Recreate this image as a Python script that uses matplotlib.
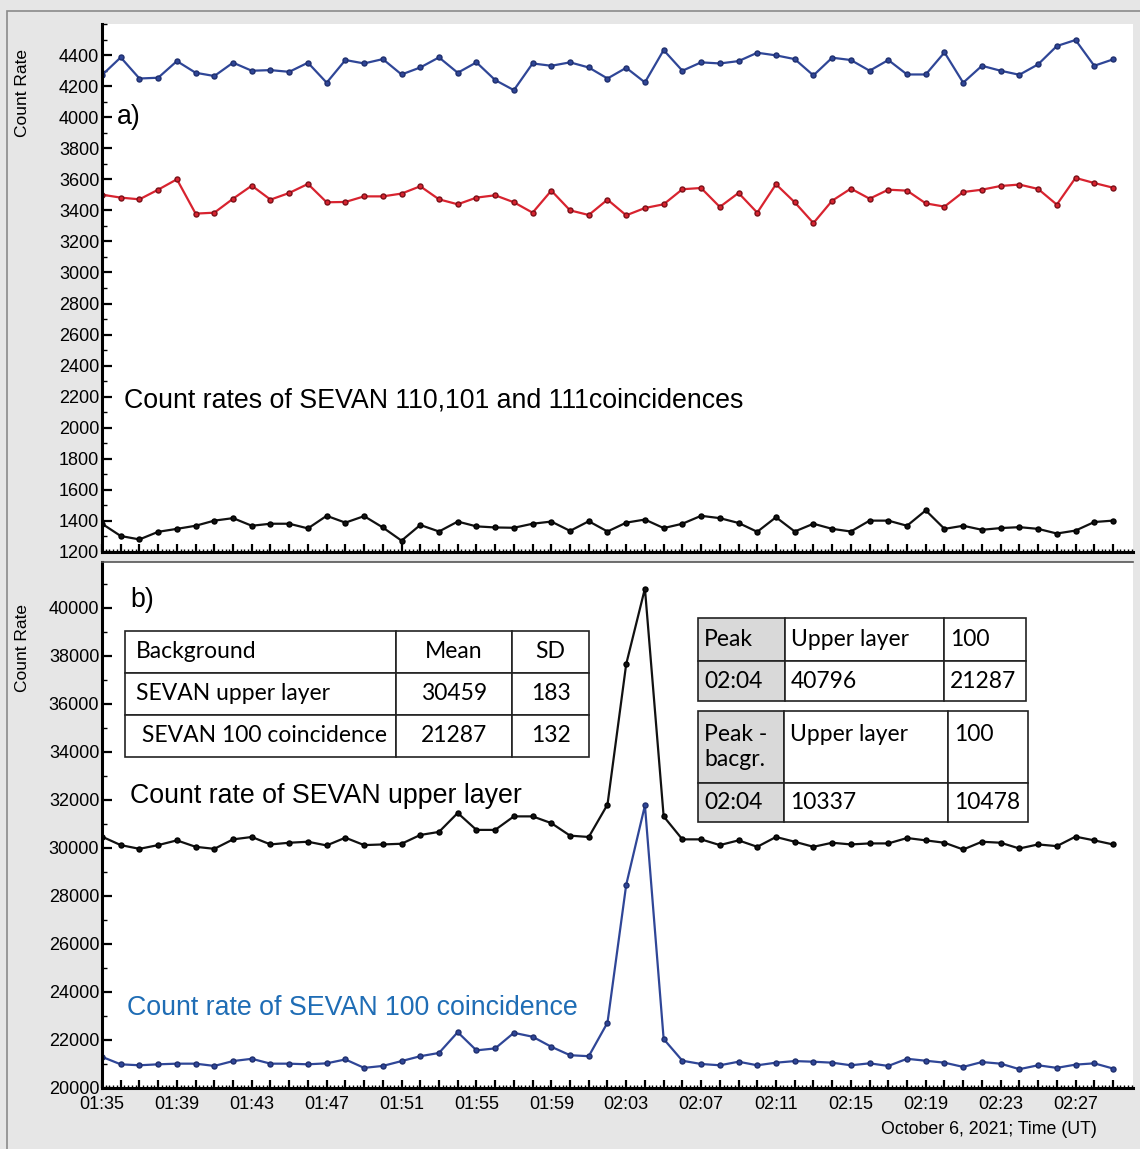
import matplotlib
matplotlib.use("Agg")
import matplotlib.pyplot as plt
from matplotlib.ticker import MultipleLocator, FixedLocator
from matplotlib.table import Table
from matplotlib.patches import Rectangle
import numpy as np

plt.rcParams['font.family'] = ['Liberation Sans', 'DejaVu Sans']

# minutes after 01:35 UT, October 6, 2021
minutes = np.arange(55)
tick_pos = [0, 4, 8, 12, 16, 20, 24, 28, 32, 36, 40, 44, 48, 52]
tick_labels = ["01:35", "01:39", "01:43", "01:47", "01:51", "01:55", "01:59",
               "02:03", "02:07", "02:11", "02:15", "02:19", "02:23", "02:27"]

# panel a) coincidences 110, 101, 111
sevan_110 = [4271, 4385, 4249, 4254, 4361, 4286, 4265, 4351, 4299, 4303, 4292, 4351, 4222, 4368,
             4346, 4374, 4275, 4320, 4385, 4286, 4353, 4239, 4174, 4346, 4331, 4353, 4320, 4249,
             4318, 4224, 4432, 4299, 4353, 4346, 4361, 4415, 4398, 4374, 4269, 4383, 4368, 4299,
             4368, 4275, 4275, 4417, 4222, 4331, 4299, 4273, 4340, 4458, 4497, 4331, 4372]
sevan_101 = [3501, 3482, 3471, 3533, 3600, 3379, 3385, 3475, 3559, 3469, 3512, 3570, 3452, 3454,
             3490, 3490, 3508, 3555, 3471, 3439, 3482, 3497, 3452, 3385, 3527, 3400, 3370, 3469,
             3368, 3415, 3439, 3536, 3544, 3422, 3512, 3385, 3568, 3452, 3318, 3462, 3540, 3475,
             3533, 3527, 3445, 3424, 3518, 3533, 3557, 3566, 3538, 3437, 3609, 3576, 3546]
sevan_111 = [1382, 1303, 1281, 1330, 1349, 1369, 1402, 1418, 1369, 1382, 1382, 1352, 1433, 1389,
             1431, 1358, 1273, 1374, 1332, 1396, 1365, 1358, 1356, 1382, 1396, 1336, 1398, 1332,
             1389, 1409, 1354, 1382, 1433, 1418, 1387, 1330, 1424, 1332, 1382, 1349, 1332, 1402,
             1402, 1369, 1468, 1349, 1369, 1343, 1354, 1360, 1349, 1319, 1338, 1393, 1402]

# panel b) upper layer and 100 coincidence
upper_layer = [30465, 30113, 29958, 30113, 30310, 30042, 29958, 30352, 30451, 30141, 30211, 30253,
               30099, 30422, 30113, 30141, 30169, 30535, 30662, 31450, 30746, 30746, 31309, 31309,
               31028, 30507, 30451, 31800, 37650, 40796, 31309, 30352, 30352, 30113, 30310, 30042,
               30451, 30253, 30042, 30211, 30141, 30183, 30183, 30408, 30310, 30211, 29930, 30253,
               30211, 29972, 30141, 30070, 30465, 30310, 30141]
coinc_100 = [21297, 20986, 20946, 20986, 21013, 21013, 20919, 21121, 21216, 21013, 21013, 20986,
             21027, 21189, 20838, 20919, 21121, 21324, 21459, 22324, 21567, 21648, 22297, 22135,
             21716, 21365, 21324, 22720, 28460, 31765, 22040, 21135, 21000, 20946, 21094, 20946,
             21054, 21121, 21094, 21054, 20946, 21027, 20919, 21216, 21135, 21054, 20878, 21081,
             21013, 20784, 20946, 20838, 20973, 21027, 20811]

table_bg = [["Background", "Mean", "SD"],
            ["SEVAN upper layer", "30459", "183"],
            [" SEVAN 100 coincidence", "21287", "132"]]
table_peak = [["Peak", "Upper layer", "100"],
              ["02:04", "40796", "21287"]]
table_net = [["Peak -\nbacgr.", "Upper layer\n", "100\n"],
             ["02:04", "10337", "10478"]]

W, H = 1140, 1149
fig = plt.figure(figsize=(W / 100, H / 100), dpi=100, facecolor="#e6e6e6")
fig.patches.append(Rectangle((7 / W, -0.01), 1.02, (H - 11) / H + 0.01, transform=fig.transFigure,
                             fill=False, edgecolor="#8a8a8a", linewidth=1.2))

ax1 = fig.add_axes([102 / W, (H - 552) / H, 1031 / W, 528 / H])
ax2 = fig.add_axes([102 / W, (H - 1088) / H, 1031 / W, 526 / H])

line_kw = dict(linewidth=1.6, marker="o", markersize=3.6)
ax1.plot(minutes, sevan_110, color="#2f4697", markeredgecolor="#1f2f6e", **line_kw)
ax1.plot(minutes, sevan_101, color="#d8232f", markeredgecolor="#7a1018", **line_kw)
ax1.plot(minutes, sevan_111, color="#111111", markeredgecolor="#000000", **line_kw)
ax2.plot(minutes, upper_layer, color="#111111", markeredgecolor="#000000", **line_kw)
ax2.plot(minutes, coinc_100, color="#2f4697", markeredgecolor="#1f2f6e", **line_kw)

ax1.set_ylim(1200, 4600)
ax2.set_ylim(20000, 41900)
ax1.yaxis.set_major_locator(FixedLocator(np.arange(1200, 4401, 200)))
ax1.yaxis.set_minor_locator(MultipleLocator(100))
ax2.yaxis.set_major_locator(FixedLocator(np.arange(20000, 40001, 2000)))
ax2.yaxis.set_minor_locator(MultipleLocator(1000))

for ax in (ax1, ax2):
    ax.set_xlim(0, 55.07)
    ax.xaxis.set_major_locator(FixedLocator(minutes))
    ax.xaxis.set_minor_locator(MultipleLocator(0.2))
    ax.set_facecolor("white")
    for s in ("top", "right"):
        ax.spines[s].set_visible(False)
    for s in ("left", "bottom"):
        ax.spines[s].set_linewidth(2.2)
        ax.spines[s].set_color("black")
    ax.tick_params(axis="both", which="major", direction="in", length=7, width=1.6,
                   labelsize=13, pad=2)
    ax.tick_params(axis="both", which="minor", direction="in", length=3.5, width=1.0)
    ax.tick_params(axis="x", which="major", length=6, pad=6)
    ax.tick_params(axis="x", which="minor", length=2.5)

ax2.spines["top"].set_visible(True)
ax2.spines["top"].set_color("#555555")
ax2.spines["top"].set_linewidth(1.2)

ax1.tick_params(axis="x", labelbottom=False)
ax2.set_xticks(minutes)
ax2.set_xticklabels([tick_labels[tick_pos.index(m)] if m in tick_pos else "" for m in minutes])

fig.text(23 / W, 1 - 93 / H, "Count Rate", rotation=90, ha="center", va="center", fontsize=12.5)
fig.text(23 / W, 1 - 648 / H, "Count Rate", rotation=90, ha="center", va="center", fontsize=12.5)
fig.text(1097 / W, 1 - 1130 / H, "October 6, 2021; Time (UT)", ha="right", va="center", fontsize=12.8)

big = 19.3
ax1.text(0.0145, 0.824, "a)", transform=ax1.transAxes, fontsize=big, va="center")
ax1.text(0.0213, 0.286, "Count rates of SEVAN 110,101 and 111coincidences", transform=ax1.transAxes,
         fontsize=big, va="center")
ax2.text(0.027, 0.928, "b)", transform=ax2.transAxes, fontsize=big, va="center")
ax2.text(0.027, 0.555, "Count rate of SEVAN upper layer", transform=ax2.transAxes,
         fontsize=big, va="center")
ax2.text(0.0243, 0.152, "Count rate of SEVAN 100 coincidence", transform=ax2.transAxes,
         fontsize=big, va="center", color="#1f6db5")


def add_table(ax, rows, col_w, row_h, locs, bbox, gray_first=False):
    tb = Table(ax, bbox=bbox)
    for r, row in enumerate(rows):
        for c, txt in enumerate(row):
            fc = "#d9d9d9" if (gray_first and c == 0) else "white"
            cell = tb.add_cell(r, c, width=col_w[c], height=row_h[r], text=txt,
                               loc=locs[c], facecolor=fc, edgecolor="#222222")
            cell.set_linewidth(1.2)
            cell.PAD = 6 / col_w[c] if locs[c] == "left" else 0.1
            cell.get_text().set_fontfamily(["Lato", "DejaVu Sans"])
    tb.auto_set_font_size(False)
    tb.set_fontsize(16.5)
    ax.add_table(tb)
    return tb


def bbox_px(ax_left, ax_top, x0, y0, x1, y1, w=1031, h=526):
    return [(x0 - ax_left) / w, (ax_top - y1) / h, (x1 - x0) / w, (y1 - y0) / h]


t1 = add_table(ax2, table_bg, [271, 116, 77], [42, 42, 42], ["left", "center", "center"],
               bbox_px(102, 1088, 125, 631, 589, 757))
for r in range(3):
    t1[r, 0].PAD = 11 / 271
add_table(ax2, table_peak, [87, 159, 82], [43, 40], ["left", "left", "left"],
          bbox_px(102, 1088, 698, 618, 1026, 701), gray_first=True)
add_table(ax2, table_net, [86, 164, 80], [72, 39], ["left", "left", "left"],
          bbox_px(102, 1088, 698, 711, 1028, 822), gray_first=True)

fig.savefig("out.png", dpi=100, facecolor=fig.get_facecolor())
